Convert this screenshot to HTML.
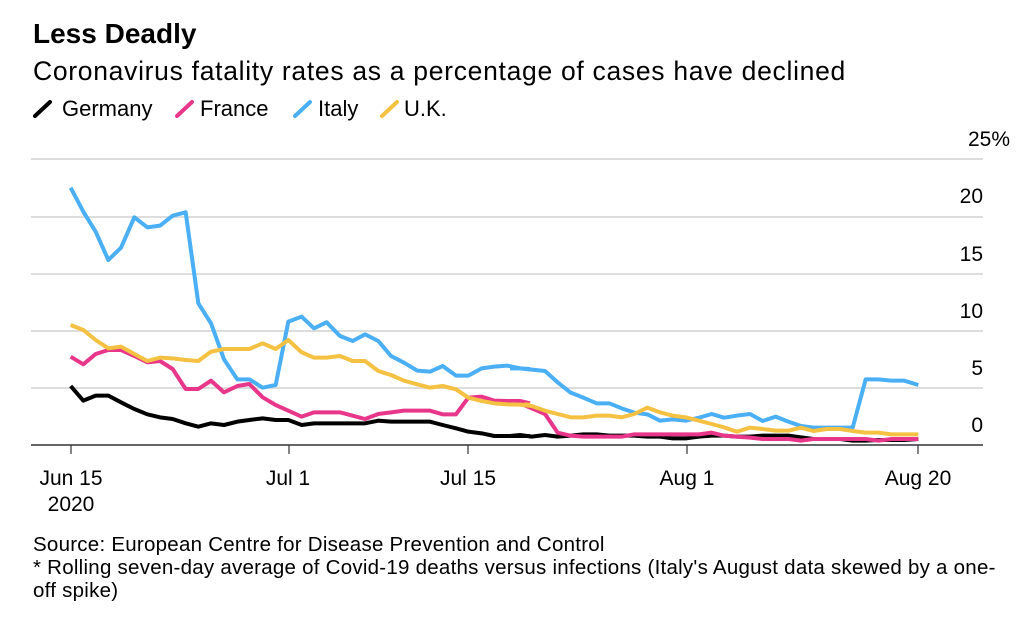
<!DOCTYPE html>
<html><head><meta charset="utf-8"><style>
body{margin:0;background:#fff;width:1024px;height:636px;overflow:hidden;font-family:"Liberation Sans",sans-serif;color:#000}
.t{position:absolute;white-space:nowrap}
</style></head><body>
<div class="t" style="left:33px;top:18px;font-size:28px;font-weight:bold;letter-spacing:0px">Less Deadly</div>
<div class="t" style="left:33px;top:56px;font-size:26.5px;letter-spacing:0.7px">Coronavirus fatality rates as a percentage of cases have declined</div>
<div class="t" style="left:62px;top:96px;font-size:22px">Germany</div>
<div class="t" style="left:200px;top:96px;font-size:22px">France</div>
<div class="t" style="left:318px;top:96px;font-size:22px">Italy</div>
<div class="t" style="left:404px;top:96px;font-size:22px">U.K.</div>
<svg width="1024" height="636" style="position:absolute;left:0;top:0">
<g stroke-width="4" fill="none" stroke-linecap="round">
<line x1="35" y1="116" x2="50" y2="102" stroke="#000"/>
<line x1="177" y1="116" x2="192" y2="102" stroke="#e8378a"/>
<line x1="295" y1="116" x2="310" y2="102" stroke="#4aaff5"/>
<line x1="382" y1="116" x2="397" y2="102" stroke="#f5c142"/>
</g>
<g stroke="#ddd" stroke-width="2">
<line x1="31" y1="159" x2="983" y2="159"/><line x1="31" y1="217" x2="983" y2="217"/>
<line x1="31" y1="274" x2="983" y2="274"/><line x1="31" y1="331" x2="983" y2="331"/>
<line x1="31" y1="388" x2="983" y2="388"/>
</g>
<line x1="31" y1="445" x2="983" y2="445" stroke="#333" stroke-width="1.5"/>
<g stroke="#333" stroke-width="1.2">
<line x1="71" y1="445" x2="71" y2="454"/><line x1="289" y1="445" x2="289" y2="454"/>
<line x1="468" y1="445" x2="468" y2="454"/><line x1="687" y1="445" x2="687" y2="454"/>
<line x1="918" y1="445" x2="918" y2="454"/>
</g>
<g font-size="21" text-anchor="end" font-family="Liberation Sans,sans-serif">
<text x="1010" y="146">25%</text><text x="983" y="203">20</text><text x="983" y="261">15</text>
<text x="983" y="318">10</text><text x="983" y="375">5</text><text x="983" y="432">0</text>
</g>
<g font-size="21" text-anchor="middle" font-family="Liberation Sans,sans-serif">
<text x="71" y="485">Jun 15</text><text x="71" y="511">2020</text>
<text x="288" y="485">Jul 1</text><text x="468" y="485">Jul 15</text>
<text x="687" y="485">Aug 1</text><text x="918" y="485">Aug 20</text>
</g>
<g fill="none" stroke-width="12" stroke-linejoin="round">
<g transform="translate(30,150) scale(0.33333)">
<polyline stroke="#4aaff5" points="122,113 160,185 197,245 235,330 273,293 313,202 352,232 390,227 428,197 467,187 505,460 543,520 582,628 622,688 658,688 698,713 737,705 775,515 815,500 852,535 890,517 930,558 968,573 1005,553 1045,573 1083,618 1122,638 1162,662 1200,665 1238,648 1278,677 1315,677 1355,655 1393,650 1432,647 1470,655 1500,657"/>
<polyline stroke="#000" points="122,708 160,752 197,737 235,737 273,757 313,777 352,793 390,802 428,807 467,820 505,830 543,820 582,825 622,815 658,810 698,805 737,810 775,810 815,825 852,820 890,820 930,820 968,820 1005,820 1045,812 1083,815 1122,815 1162,815 1200,815 1238,825 1278,835 1315,845 1355,850 1393,858 1432,858 1470,858 1500,858"/>
<polyline stroke="#e8378a" points="122,620 160,643 197,612 235,600 273,600 313,618 352,637 390,633 428,657 467,717 505,717 543,692 582,727 622,708 658,702 698,742 737,765 775,782 815,800 852,787 890,787 930,787 968,797 1005,807 1045,792 1083,787 1122,782 1162,782 1200,782 1238,793 1278,793 1315,743 1355,740 1393,752 1432,753 1470,753 1500,760"/>
<polyline stroke="#f5c142" points="122,525 160,540 197,570 235,595 273,590 313,612 352,633 390,623 428,625 467,630 505,633 543,605 582,597 622,597 658,597 698,580 737,597 775,570 815,607 852,623 890,623 930,618 968,633 1005,633 1045,663 1083,675 1122,692 1162,703 1200,713 1238,708 1278,718 1315,743 1355,753 1393,760 1432,763 1470,763 1500,764"/>
</g>
<g transform="translate(520,150) scale(0.33333)">
<polyline stroke="#4aaff5" points="-30,655 0,655 75,663 113,697 152,728 190,743 230,760 268,760 305,775 343,788 382,793 420,812 458,808 497,812 537,803 575,792 612,803 650,797 690,792 728,813 767,800 805,815 843,828 880,833 920,833 960,833 998,833 1037,688 1075,688 1115,692 1153,692 1195,705"/>
<polyline stroke="#000" points="-30,858 0,855 35,860 75,855 113,860 152,857 190,853 230,853 268,857 305,857 343,857 382,860 420,860 458,865 497,865 537,860 575,857 612,857 650,860 690,860 728,857 767,857 805,857 843,862 880,867 920,867 960,867 998,872 1037,872 1075,870 1115,870 1153,870 1195,867"/>
<polyline stroke="#e8378a" points="-30,753 0,760 35,775 75,792 113,848 152,857 190,860 230,860 268,860 305,860 343,853 382,853 420,853 458,853 497,853 537,853 575,848 612,857 650,860 690,863 728,867 767,867 805,867 843,872 880,867 920,867 960,867 998,867 1037,867 1075,872 1115,867 1153,867 1195,867"/>
<polyline stroke="#f5c142" points="-30,763 0,764 35,768 75,782 113,792 152,802 190,802 230,797 268,797 305,802 343,792 382,773 420,787 458,797 497,802 537,812 575,822 612,832 650,845 690,833 728,837 767,842 805,842 843,833 880,843 920,837 960,837 998,843 1037,848 1075,848 1115,853 1153,853 1195,853"/>
</g>
</g>
</svg>
<div class="t" style="left:33px;top:533px;font-size:20.5px;letter-spacing:0.25px">Source: European Centre for Disease Prevention and Control</div>
<div class="t" style="left:33px;top:556px;font-size:20.5px;letter-spacing:0.25px">* Rolling seven-day average of Covid-19 deaths versus infections (Italy's August data skewed by a one-</div>
<div class="t" style="left:33px;top:579px;font-size:20.5px;letter-spacing:0.25px">off spike)</div>
</body></html>
